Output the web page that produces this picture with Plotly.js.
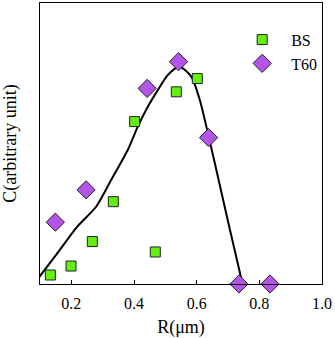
<!DOCTYPE html>
<html>
<head>
<meta charset="utf-8">
<script src="https://cdn.plot.ly/plotly-3.0.1.min.js"></script>
<style>
  html, body { margin: 0; padding: 0; background: #fff; }
  #chart { width: 335px; height: 338px; }
</style>
</head>
<body>
<div id="chart"></div>
<script>
// values (y is arbitrary, 0-100)
var bsR = [0.133, 0.199, 0.267, 0.334, 0.402, 0.468, 0.535, 0.602];
var bsC = [3.2, 6.4, 15.1, 29.3, 57.8, 11.4, 68.4, 73.1];

var t60R = [0.149, 0.247, 0.442, 0.542, 0.638, 0.735, 0.834];
var t60C = [22.0, 33.5, 69.6, 79.1, 52.1, 0, 0];

var fitR = [0.097, 0.155, 0.219, 0.279, 0.327, 0.380, 0.412, 0.444, 0.476, 0.508, 0.545, 0.583, 0.610, 0.631, 0.652, 0.699, 0.746];
var fitC = [2.4, 10.9, 20.4, 27.5, 37.0, 47.7, 56.0, 63.1, 69.0, 74.4, 77.3, 73.8, 65.5, 56.0, 45.9, 22.8, 0.2];

var xTicks = [0.2, 0.4, 0.6, 0.8, 1.0];
var xTickText = ['0.2', '0.4', '0.6', '0.8', '1.0'];

var serif = '"Liberation Serif", "Times New Roman", Times, serif';

var fit = {
  x: fitR, y: fitC,
  mode: 'lines',
  type: 'scatter',
  line: {color: '#000', width: 2, shape: 'spline', smoothing: 0.7},
  showlegend: false,
  hoverinfo: 'skip'
};

var bs = {
  x: bsR, y: bsC,
  name: 'BS',
  mode: 'markers',
  type: 'scatter',
  cliponaxis: false,
  marker: {symbol: 'square', size: 10, color: '#66ee11', line: {color: '#222', width: 1}}
};

var t60 = {
  x: t60R, y: t60C,
  name: 'T60',
  mode: 'markers',
  type: 'scatter',
  cliponaxis: false,
  marker: {symbol: 'diamond', size: 14, color: '#b455e8', line: {color: '#222', width: 1}}
};

var layout = {
  width: 335,
  height: 338,
  margin: {l: 40, r: 13, t: 3, b: 54},
  paper_bgcolor: '#fff',
  plot_bgcolor: '#fff',
  font: {family: serif, size: 16, color: '#000'},
  showlegend: true,
  legend: {
    x: 0.685, y: 0.93, xanchor: 'left', yanchor: 'top',
    bgcolor: 'rgba(0,0,0,0)',
    font: {family: serif, size: 16, color: '#000'},
    itemwidth: 48,
    tracegroupgap: 0
  },
  xaxis: {
    range: [0.1, 1.0],
    automargin: false,
    tickvals: xTicks,
    ticktext: xTickText,
    ticks: 'inside',
    ticklen: 4,
    tickcolor: '#000',
    ticklabelstandoff: 5,
    showgrid: false,
    zeroline: false,
    showline: true,
    linecolor: '#000',
    linewidth: 1,
    mirror: true,
    tickfont: {family: serif, size: 16},
    title: {text: 'R(μm)', font: {family: serif, size: 18}, standoff: 10}
  },
  yaxis: {
    range: [0, 100],
    automargin: false,
    showticklabels: false,
    ticks: '',
    showgrid: false,
    zeroline: false,
    showline: true,
    linecolor: '#000',
    linewidth: 1,
    mirror: true,
    title: {text: 'C(arbitrary unit)', font: {family: serif, size: 18}, standoff: 18}
  }
};

Plotly.newPlot('chart', [fit, bs, t60], layout, {displayModeBar: false, staticPlot: true});
</script>
</body>
</html>
